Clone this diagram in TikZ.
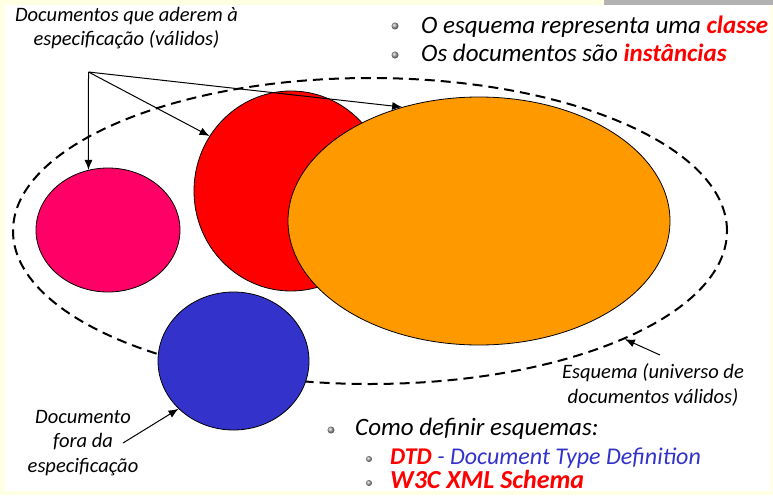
\documentclass[tikz,border=0pt]{standalone}
\usepackage{fontspec}
\setmainfont{Carlito}
\usetikzlibrary{arrows.meta,positioning,shapes.geometric}
\definecolor{slideyellow}{HTML}{FFFFE3}
\definecolor{slidegray}{HTML}{B2B2B2}
\definecolor{docpink}{HTML}{FF0066}
\definecolor{docred}{HTML}{FF0000}
\definecolor{docorange}{HTML}{FF9900}
\definecolor{docblue}{HTML}{3333CC}

\begin{document}
\begin{tikzpicture}[
  x=1pt, y=-1pt,
  doc/.style={
    ellipse,
    draw=black,
    line width=0.8pt,
    inner sep=0pt
  },
  universe/.style={
    ellipse,
    draw=black,
    line width=2pt,
    dash pattern=on 10pt off 6pt,
    inner sep=0pt
  },
  label/.style={
    align=center,
    inner sep=0pt,
    anchor=base,
    font=\fontsize{20.5}{24.5}\selectfont\itshape
  },
  bullet/.style={
    circle,
    inner sep=0pt,
    minimum size=7pt,
    ball color=gray!70
  },
  point/.style={
    anchor=base west,
    inner sep=0pt,
    font=\fontsize{25}{29}\selectfont\itshape
  },
  subpoint/.style={
    anchor=base west,
    inner sep=0pt,
    font=\fontsize{24}{27}\selectfont\itshape
  },
  arrow/.style={-{Latex[length=10pt,width=8pt]}, line width=1pt}
]

% slide background
\useasboundingbox (0,0) rectangle (773,495);
\fill[slideyellow] (0,0) rectangle (773,495);
\fill[white] (5,5) rectangle (770,491);
\fill[slidegray] (604,0) rectangle (773,5);

% schema and documents
\node[universe, minimum width=714pt, minimum height=306pt] (schema) at (370,231) {};
\node[doc, fill=docpink, minimum width=144pt, minimum height=124pt] (pink) at (108,230) {};
\node[doc, fill=docred, minimum width=194pt, minimum height=200pt] (red) at (291,191) {};
\node[doc, fill=docorange, minimum width=382pt, minimum height=248pt] (orange) at (479,221) {};
\node[doc, fill=docblue, minimum width=151pt, minimum height=138pt] (blue) at (233.5,361) {};

% labels (base = last line)
\node[label] (valid) at (126.5,46) {Documentos que aderem à\\especificação (válidos)};
\node[label] (universo) at (653,403) {Esquema (universo de\\documentos válidos)};
\node[label] (outside) at (83,472) {Documento\\fora da\\especificação};

\coordinate (fork) at (88.5,72);
\coordinate (schematail) at (660,355);
\coordinate (outsidetail) at (123,443);

\draw[arrow] (fork) -- (pink.108);
\draw[arrow] (fork) -- (red.146);
\draw[arrow] (fork) -- (orange.124);
\draw[arrow] (schematail) -- (schema.-23.6);
\draw[arrow] (outsidetail) -- (blue.221);

% bullet points
\node[bullet] (b1) at (395,26) {};
\node[point] (classe) at (421,34) {O esquema representa uma \textbf{\color{docred}classe}};
\node[bullet] (b2) at (395,55) {};
\node[point] (inst) at (421,62) {Os documentos são \textbf{\color{docred}instâncias}};
\node[bullet] (b3) at (331,430) {};
\node[point] (como) at (355,435) {Como definir esquemas:};
\node[bullet, minimum size=6pt] (b4) at (369,459) {};
\node[subpoint] (dtd) at (390,464) {\textbf{\color{docred}DTD} {\color{docblue}- Document Type Definition}};
\node[bullet, minimum size=6pt] (b5) at (369,483) {};
\node[subpoint, font=\fontsize{26}{29}\selectfont\itshape] (xsd) at (390,488) {\textbf{\color{docred}W3C XML Schema}};

\fill[slideyellow] (0,491) rectangle (773,495);

\end{tikzpicture}
\end{document}
